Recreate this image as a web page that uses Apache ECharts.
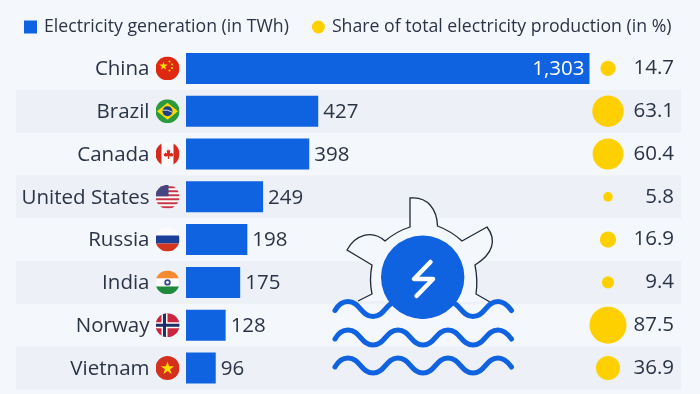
<!DOCTYPE html>
<html>
<head>
<meta charset="utf-8">
<style>
  html, body { margin: 0; padding: 0; background: #f4f7fc; }
  #chart { width: 700px; height: 394px; }
</style>
<script src="https://cdn.jsdelivr.net/npm/echarts@6/dist/echarts.min.js"></script>
</head>
<body>
<div id="chart"></div>
<script>
const countries = ['China', 'Brazil', 'Canada', 'United States', 'Russia', 'India', 'Norway', 'Vietnam']
const generation = [1303, 427, 398, 249, 198, 175, 128, 96]
const share = [14.7, 63.1, 60.4, 5.8, 16.9, 9.4, 87.5, 36.9]
const flagKeys = ['cn', 'br', 'ca', 'us', 'ru', 'in', 'no', 'vn']

const textColor = '#2a3446'
const blue = '#0f62e0'
const yellow = '#ffd000'
const font = '"Open Sans", sans-serif'
const labelSize = 20.5

// round flags, drawn as little svgs
const flagArt = {
  cn: '<rect width="24" height="24" fill="#de2910"/><path d="M8 5l1 3.2h3.3l-2.7 2 1 3.2L8 11.4l-2.6 2 1-3.2-2.7-2H7z" fill="#ffde00"/><circle cx="14" cy="5" r="1" fill="#ffde00"/><circle cx="16.5" cy="8" r="1" fill="#ffde00"/><circle cx="16.5" cy="11.5" r="1" fill="#ffde00"/><circle cx="14" cy="14" r="1" fill="#ffde00"/>',
  br: '<rect width="24" height="24" fill="#2a9a3c"/><path d="M12 3.5L22.5 12 12 20.5 1.5 12z" fill="#ffd800"/><circle cx="12" cy="12" r="5" fill="#1d3f8f"/><path d="M7.2 11q5-1 9.6 2" stroke="#fff" stroke-width=".8" fill="none"/>',
  ca: '<rect width="24" height="24" fill="#fbfbfb"/><rect width="6" height="24" fill="#d52b1e"/><rect x="18" width="6" height="24" fill="#d52b1e"/><path d="M12 6l1.3 2.6 1.5-.6-.5 3.5 1.9-1 .5 1.3 1.3-.2-.6 2.3-1 .5-2.8-.1.1 2.7h-1.4l.1-2.7-2.8.1-1-.5-.6-2.3 1.3.2.5-1.3 1.9 1-.5-3.5 1.5.6z" fill="#d52b1e"/>',
  us: '<rect width="24" height="24" fill="#fbfbfb"/><g fill="#c8374a"><rect y="1.5" width="24" height="2"/><rect y="5.5" width="24" height="2"/><rect y="9.5" width="24" height="2"/><rect y="13.5" width="24" height="2"/><rect y="17.5" width="24" height="2"/><rect y="21.5" width="24" height="2"/></g><rect width="13" height="11.5" fill="#47467f"/>',
  ru: '<rect width="24" height="8" fill="#fbfbfb"/><rect y="8" width="24" height="8" fill="#1c3f99"/><rect y="16" width="24" height="8" fill="#d3361f"/>',
  in: '<rect width="24" height="8" fill="#f58a30"/><rect y="8" width="24" height="8" fill="#fbfbfb"/><rect y="16" width="24" height="8" fill="#1f8a3c"/><circle cx="12" cy="12" r="3.2" fill="#3a4a8c"/><circle cx="12" cy="12" r="1.4" fill="#fbfbfb"/>',
  no: '<rect width="24" height="24" fill="#c8283f"/><rect x="6" width="6" height="24" fill="#fbfbfb"/><rect y="9" width="24" height="6" fill="#fbfbfb"/><rect x="7.5" width="3" height="24" fill="#1c2f66"/><rect y="10.5" width="24" height="3" fill="#1c2f66"/>',
  vn: '<rect width="24" height="24" fill="#d4301c"/><path d="M12 5.5l1.6 4.7h5l-4 3 1.5 4.8-4.1-2.9L7.9 18l1.5-4.8-4-3h5z" fill="#ffdd00"/>'
}

function flagImage(key) {
  const svg = '<svg xmlns="http://www.w3.org/2000/svg" width="24" height="24" viewBox="0 0 24 24"><clipPath id="c"><circle cx="12" cy="12" r="12"/></clipPath><g clip-path="url(#c)">' + flagArt[key] + '</g></svg>'
  return 'data:image/svg+xml;charset=utf-8,' + encodeURIComponent(svg)
}

const richFlags = {
  name: { fontFamily: font, fontSize: labelSize, color: textColor, padding: [2, 6, 0, 0] }
}
flagKeys.forEach(key => {
  richFlags[key] = { width: 24, height: 24, backgroundColor: { image: flagImage(key) } }
})

// turbine and waves in the middle of the chart
function wavePath(y) {
  const crest = y - 7.5
  const trough = y + 7.5
  let d = 'M335 ' + (y + 1.5) + ' Q340 ' + crest + ' 348 ' + crest
  let x = 348
  for (let i = 0; i < 6; i++) {
    const from = i % 2 === 0 ? crest : trough
    const to = i % 2 === 0 ? trough : crest
    d += ' C' + (x + 12) + ' ' + from + ' ' + (x + 13) + ' ' + to + ' ' + (x + 25) + ' ' + to
    x += 25
  }
  d += ' Q' + (x + 7) + ' ' + crest + ' 511.5 ' + (y + 1.5)
  return d
}

const gearOutline = 'M358 301 L372 294 Q369 280 372 265 L347 250 C355 235 372 229 385 241 ' +
  'Q397 231 410 227 L410 198 C428 196 437 210 437.5 226 Q451 231 462 241 L487 227 ' +
  'C497 240 493 254 475 265 Q478 280 476 294 L490 302'

echarts.graphic.registerShape('gear', echarts.graphic.extendPath(gearOutline, {}))
echarts.graphic.registerShape('bolt', echarts.graphic.extendPath('M430.5 262 L414 279 L433 279 L416.5 296', {}))
echarts.graphic.registerShape('wave1', echarts.graphic.extendPath(wavePath(309), {}))
echarts.graphic.registerShape('wave2', echarts.graphic.extendPath(wavePath(337.5), {}))
echarts.graphic.registerShape('wave3', echarts.graphic.extendPath(wavePath(365.5), {}))

const waveStyle = { fill: 'none', stroke: blue, lineWidth: 5, lineCap: 'round' }

const chart = echarts.init(document.getElementById('chart'))
chart.setOption({
  backgroundColor: '#f4f7fc',
  animation: false,
  textStyle: { fontFamily: font },
  legend: {
    left: 19,
    top: 13,
    itemWidth: 13,
    itemHeight: 13,
    itemGap: 23,
    textStyle: { fontFamily: font, fontSize: 17.7, color: textColor, padding: [0, 0, 0, 2] },
    data: [
      { name: 'Electricity generation (in TWh)', icon: 'rect' },
      { name: 'Share of total electricity production (in %)', icon: 'circle' }
    ]
  },
  grid: [
    { left: 16, top: 47, width: 665, height: 342.4 },
    { left: 186, top: 47, width: 403.5, height: 342.4 },
    { left: 578, top: 47, width: 60, height: 342.4 }
  ],
  xAxis: [
    { gridIndex: 0, type: 'value', show: false },
    { gridIndex: 1, type: 'value', show: false, min: 0, max: 1303 },
    { gridIndex: 2, type: 'category', show: false, data: ['share'] }
  ],
  yAxis: [
    {
      gridIndex: 0,
      type: 'category',
      inverse: true,
      data: countries,
      axisLine: { show: false },
      axisTick: { show: false },
      axisLabel: { show: false },
      splitArea: { show: true, interval: 0, areaStyle: { color: ['rgba(0,0,0,0)', '#edf0f6'] } }
    },
    {
      gridIndex: 1,
      type: 'category',
      inverse: true,
      data: countries,
      axisLine: { show: false },
      axisTick: { show: false },
      axisLabel: {
        margin: 6.5,
        interval: 0,
        formatter: (value, index) => '{name|' + value + '}{' + flagKeys[index] + '|}',
        rich: richFlags
      }
    },
    {
      gridIndex: 2,
      type: 'category',
      inverse: true,
      position: 'right',
      data: countries,
      axisLine: { show: false },
      axisTick: { show: false },
      axisLabel: {
        margin: 36,
        interval: 0,
        align: 'right',
        padding: [2, 0, 0, 0],
        fontFamily: font,
        fontSize: labelSize,
        color: textColor,
        formatter: (value, index) => share[index].toFixed(1)
      }
    }
  ],
  series: [
    {
      name: 'Electricity generation (in TWh)',
      type: 'bar',
      xAxisIndex: 1,
      yAxisIndex: 1,
      barWidth: 31,
      itemStyle: { color: blue },
      label: {
        show: true,
        position: 'right',
        distance: 5,
        offset: [0, 1],
        fontFamily: font,
        fontSize: labelSize,
        color: textColor,
        formatter: p => p.value.toLocaleString('en-US')
      },
      // the longest bar carries its label inside
      data: generation.map(v => v > 1000 ? { value: v, label: { position: 'insideRight', color: '#fff' } } : v)
    },
    {
      name: 'Share of total electricity production (in %)',
      type: 'scatter',
      xAxisIndex: 2,
      yAxisIndex: 2,
      symbol: 'circle',
      symbolSize: v => Math.sqrt(v[2]) * 3.96,
      itemStyle: { color: yellow, opacity: 1 },
      data: share.map((v, i) => ['share', countries[i], v])
    }
  ],
  graphic: [
    { type: 'gear', z: 10, style: { fill: '#f4f7fc', stroke: '#1f2937', lineWidth: 1.3 } },
    { type: 'circle', z: 11, shape: { cx: 422.7, cy: 277.3, r: 41.7 }, style: { fill: blue } },
    { type: 'bolt', z: 12, style: { fill: 'none', stroke: '#fff', lineWidth: 4.5, lineCap: 'round', lineJoin: 'round' } },
    { type: 'wave1', z: 12, style: waveStyle },
    { type: 'wave2', z: 12, style: waveStyle },
    { type: 'wave3', z: 12, style: waveStyle }
  ]
})
</script>
</body>
</html>
